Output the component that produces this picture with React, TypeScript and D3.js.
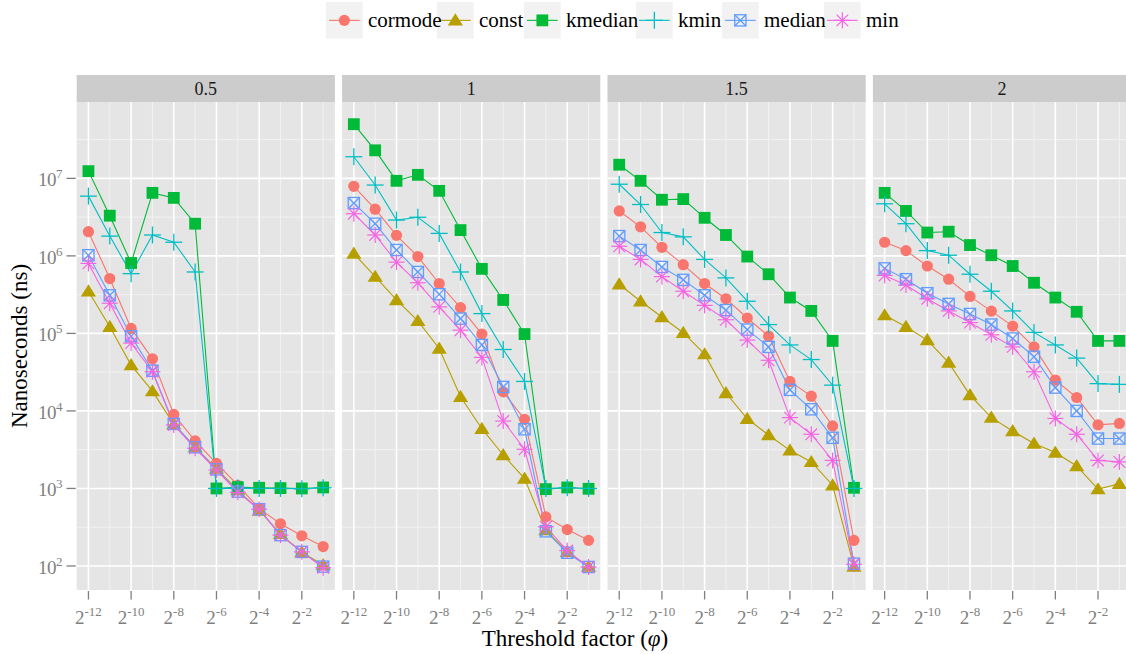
import React from "react";
import * as d3 from "d3";

const exponents = [-12, -11, -10, -9, -8, -7, -6, -5, -4, -3, -2, -1];
const facets = ["0.5", "1", "1.5", "2"];
const seriesNames = ["cormode", "const", "kmedian", "kmin", "median", "min"];
const seriesColors = ["#F8766D", "#B79F00", "#00BA38", "#00BFC4", "#619CFF", "#F564E3"];
const yTickExps = [2, 3, 4, 5, 6, 7];
const xTickExps = [-12, -10, -8, -6, -4, -2];

// values per facet (0.5, 1, 1.5, 2), one entry per exponent
const cormode = [
  [2.05e6, 5.1e5, 1.16e5, 4.7e4, 9.0e3, 4.1e3, 2.1e3, 1.1e3, 550, 350, 245, 178],
  [7.9e6, 4.0e6, 1.84e6, 9.8e5, 4.4e5, 2.15e5, 9.8e4, 1.76e4, 7.8e3, 430, 295, 214],
  [3.8e6, 2.37e6, 1.29e6, 7.7e5, 4.4e5, 2.8e5, 1.58e5, 9.2e4, 2.4e4, 1.55e4, 6.4e3, 214],
  [1.5e6, 1.17e6, 7.4e5, 5.0e5, 3.0e5, 1.94e5, 1.24e5, 6.7e4, 2.5e4, 1.49e4, 6.6e3, 6.9e3],
];
const constS = [
  [3.5e5, 1.22e5, 3.9e4, 1.8e4, 6.7e3, 3.4e3, 1.8e3, 950, 520, 260, 150, 103],
  [1.07e6, 5.4e5, 2.7e5, 1.45e5, 6.4e4, 1.52e4, 5.9e3, 2.7e3, 1.34e3, 290, 152, 98],
  [4.3e5, 2.6e5, 1.63e5, 1.02e5, 5.4e4, 1.7e4, 7.9e3, 4.9e3, 3.1e3, 2.2e3, 1.1e3, 98],
  [1.72e5, 1.22e5, 8.2e4, 4.2e4, 1.6e4, 8.2e3, 5.5e3, 3.8e3, 2.9e3, 1.95e3, 980, 1.15e3],
];
const kmedian = [
  [1.24e7, 3.3e6, 8.1e5, 6.5e6, 5.6e6, 2.6e6, 1000, 1040, 1020, 1010, 1000, 1030],
  [5.0e7, 2.3e7, 9.3e6, 1.11e7, 6.9e6, 2.15e6, 6.8e5, 2.7e5, 9.8e4, 980, 1030, 990],
  [1.5e7, 9.3e6, 5.3e6, 5.4e6, 3.1e6, 1.86e6, 9.8e5, 5.8e5, 2.9e5, 1.95e5, 8.0e4, 1020],
  [6.5e6, 3.8e6, 2.0e6, 2.05e6, 1.38e6, 1.02e6, 7.4e5, 4.5e5, 2.9e5, 1.9e5, 8.0e4, 8.0e4],
];
const kmin = [
  [5.9e6, 1.8e6, 5.9e5, 1.86e6, 1.5e6, 6.2e5, 1000, 1010, 1000, 1000, 990, 1020],
  [1.9e7, 8.2e6, 2.9e6, 3.15e6, 1.95e6, 6.2e5, 1.8e5, 6.2e4, 2.4e4, 1000, 1020, 1000],
  [8.4e6, 4.6e6, 2.0e6, 1.76e6, 9.0e5, 5.2e5, 2.6e5, 1.3e5, 7.1e4, 4.6e4, 2.15e4, 1000],
  [4.7e6, 2.6e6, 1.17e6, 1.02e6, 5.8e5, 3.5e5, 1.95e5, 1.03e5, 7.1e4, 4.8e4, 2.25e4, 2.2e4],
];
const median = [
  [1.02e6, 3.1e5, 9.2e4, 3.3e4, 6.8e3, 3.4e3, 1.76e3, 910, 540, 250, 152, 98],
  [4.8e6, 2.6e6, 1.19e6, 6.2e5, 3.2e5, 1.55e5, 7.1e4, 2.04e4, 5.8e3, 280, 148, 97],
  [1.8e6, 1.19e6, 7.2e5, 4.9e5, 3.1e5, 2.0e5, 1.12e5, 6.7e4, 1.87e4, 1.05e4, 4.5e3, 107],
  [6.9e5, 5.0e5, 3.3e5, 2.4e5, 1.78e5, 1.3e5, 8.6e4, 5.0e4, 2.0e4, 1.0e4, 4.4e3, 4.4e3],
];
const minS = [
  [8.0e5, 2.45e5, 7.5e4, 3.2e4, 6.6e3, 3.3e3, 1.73e3, 890, 540, 250, 152, 95],
  [3.5e6, 1.86e6, 8.3e5, 4.5e5, 2.2e5, 1.1e5, 4.9e4, 7.4e3, 3.2e3, 320, 158, 97],
  [1.33e6, 9.0e5, 5.4e5, 3.5e5, 2.3e5, 1.5e5, 8.2e4, 4.5e4, 8.2e3, 5.0e3, 2.3e3, 105],
  [5.6e5, 4.2e5, 2.8e5, 1.95e5, 1.38e5, 9.6e4, 6.7e4, 3.2e4, 8.0e3, 5.0e3, 2.3e3, 2.2e3],
];
const seriesValues = [cormode, constS, kmedian, kmin, median, minS];

// layout
const W = 1126;
const H = 654;
const panelLeft0 = 76.7;
const panelW = 258.2;
const panelGap = 7.2;
const panelTop = 102;
const panelBottom = 590;
const stripTop = 75;
const legendKeyX = [326, 437, 524, 636, 722, 824];
const legendY = 2;
const keyW = 36.7;
const keyH = 36.7;
const FONT = "'Liberation Serif', 'DejaVu Serif', serif";

const y = d3.scaleLog().domain([Math.pow(10, 1.69), Math.pow(10, 7.985)]).range([panelBottom, panelTop]);

function Marker({ shape, x, y: cy, color }: { shape: number; x: number; y: number; color: string }) {
  switch (shape) {
    case 0:
      return <circle cx={x} cy={cy} r={5.6} fill={color} />;
    case 1:
      return <path d={`M${x},${cy - 7} L${x + 7.6},${cy + 5.2} L${x - 7.6},${cy + 5.2} Z`} fill={color} />;
    case 2:
      return <rect x={x - 5.9} y={cy - 5.9} width={11.8} height={11.8} fill={color} />;
    case 3:
      return (
        <g stroke={color} strokeWidth={1.3}>
          <line x1={x - 8.5} x2={x + 8.5} y1={cy} y2={cy} />
          <line x1={x} x2={x} y1={cy - 8.5} y2={cy + 8.5} />
        </g>
      );
    case 4:
      return (
        <g stroke={color} strokeWidth={1.3} fill="none">
          <rect x={x - 5.6} y={cy - 5.6} width={11.2} height={11.2} />
          <line x1={x - 5.6} y1={cy - 5.6} x2={x + 5.6} y2={cy + 5.6} />
          <line x1={x - 5.6} y1={cy + 5.6} x2={x + 5.6} y2={cy - 5.6} />
        </g>
      );
    default:
      return (
        <g stroke={color} strokeWidth={1.2}>
          <line x1={x - 8} x2={x + 8} y1={cy} y2={cy} />
          <line x1={x} x2={x} y1={cy - 8} y2={cy + 8} />
          <line x1={x - 5.8} y1={cy - 5.8} x2={x + 5.8} y2={cy + 5.8} />
          <line x1={x - 5.8} y1={cy + 5.8} x2={x + 5.8} y2={cy - 5.8} />
        </g>
      );
  }
}

function Panel({ fi }: { fi: number }) {
  const left = panelLeft0 + fi * (panelW + panelGap);
  const x = d3.scaleLinear().domain([-12.55, -0.45]).range([left, left + panelW]);
  const majorY = yTickExps.map((e) => Math.pow(10, e));
  const minorY = [2.5, 3.5, 4.5, 5.5, 6.5, 7.5].map((e) => Math.pow(10, e));
  const minorX = [-11, -9, -7, -5, -3, -1];
  const line = d3
    .line<number>()
    .x((_, i) => x(exponents[i]))
    .y((v) => y(v));
  return (
    <g>
      <rect x={left} y={stripTop} width={panelW} height={panelTop - stripTop} fill="#CCCCCC" />
      <text x={left + panelW / 2} y={stripTop + 20} textAnchor="middle" fontSize={18} fill="#1A1A1A">
        {facets[fi]}
      </text>
      <rect x={left} y={panelTop} width={panelW} height={panelBottom - panelTop} fill="#E5E5E5" />
      {minorY.map((v, i) => (
        <line key={"my" + i} x1={left} x2={left + panelW} y1={y(v)} y2={y(v)} stroke="#F2F2F2" strokeWidth={1} />
      ))}
      {minorX.map((e, i) => (
        <line key={"mx" + i} x1={x(e)} x2={x(e)} y1={panelTop} y2={panelBottom} stroke="#F2F2F2" strokeWidth={1} />
      ))}
      {majorY.map((v, i) => (
        <line key={"gy" + i} x1={left} x2={left + panelW} y1={y(v)} y2={y(v)} stroke="#FFFFFF" strokeWidth={1.6} />
      ))}
      {xTickExps.map((e, i) => (
        <line key={"gx" + i} x1={x(e)} x2={x(e)} y1={panelTop} y2={panelBottom} stroke="#FFFFFF" strokeWidth={1.6} />
      ))}
      {seriesValues.map((s, si) => (
        <path key={"l" + si} d={line(s[fi]) || ""} fill="none" stroke={seriesColors[si]} strokeWidth={1.1} />
      ))}
      {seriesValues.map((s, si) =>
        s[fi].map((v, i) => <Marker key={"p" + si + "-" + i} shape={si} x={x(exponents[i])} y={y(v)} color={seriesColors[si]} />)
      )}
      {xTickExps.map((e, i) => (
        <g key={"xt" + i}>
          <line x1={x(e)} x2={x(e)} y1={panelBottom + 1} y2={panelBottom + 9.5} stroke="#7F7F7F" strokeWidth={1.3} />
          <text x={x(e)} y={624} textAnchor="middle" fontSize={19} fill="#7F7F7F">
            2
            <tspan dy={-8} fontSize={13}>
              {e}
            </tspan>
          </text>
        </g>
      ))}
    </g>
  );
}

export default function App() {
  return (
    <svg
      width={W}
      height={H}
      viewBox={`0 0 ${W} ${H}`}
      style={{ position: "absolute", left: 0, top: 0, background: "#FFFFFF" }}
      fontFamily={FONT}
    >
      <rect x={0} y={0} width={W} height={H} fill="#FFFFFF" />
      {/* legend keys */}
      {seriesNames.map((name, si) => {
        const kx = legendKeyX[si];
        return (
          <g key={"lg" + si}>
            <rect x={kx} y={legendY} width={keyW} height={keyH} fill="#F2F2F2" />
            <line x1={kx + 3} x2={kx + keyW - 3} y1={legendY + keyH / 2} y2={legendY + keyH / 2} stroke={seriesColors[si]} strokeWidth={1.1} />
            <Marker shape={si} x={kx + keyW / 2} y={legendY + keyH / 2} color={seriesColors[si]} />
          </g>
        );
      })}
      {/* legend labels */}
      {seriesNames.map((name, si) => (
        <text key={"lt" + si} x={legendKeyX[si] + 42} y={legendY + 25} fontSize={21} fill="#000000">
          {name}
        </text>
      ))}
      {facets.map((_, fi) => (
        <Panel key={fi} fi={fi} />
      ))}
      {/* y axis */}
      {yTickExps.map((e, i) => {
        const yy = y(Math.pow(10, e));
        return (
          <g key={"yt" + i}>
            <line x1={66.5} x2={panelLeft0 - 1} y1={yy} y2={yy} stroke="#7F7F7F" strokeWidth={1.3} />
            <text x={62} y={yy + 8} textAnchor="end" fontSize={19} fill="#7F7F7F" letterSpacing={-0.5}>
              10
              <tspan dy={-8} fontSize={13}>
                {e}
              </tspan>
            </text>
          </g>
        );
      })}
      <text transform={`translate(27,346) rotate(-90)`} textAnchor="middle" fontSize={23} fill="#000000">
        Nanoseconds (ns)
      </text>
      <text x={575} y={646} textAnchor="middle" fontSize={23} fill="#000000">
        Threshold factor (<tspan fontStyle="italic">φ</tspan>)
      </text>
    </svg>
  );
}
